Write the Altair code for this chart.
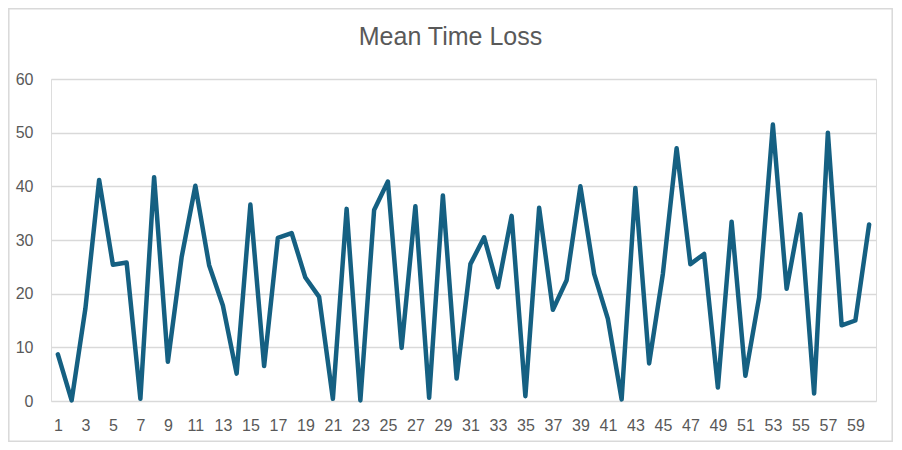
import altair as alt
import pandas as pd

categories = list(range(1, 61))
values = [8.7, 0.1, 17.2, 41.2, 25.4, 25.8, 0.4, 41.7, 7.3, 26.8,
          40.1, 25.3, 17.8, 5.1, 36.6, 6.5, 30.4, 31.3, 23.0, 19.4,
          0.4, 35.8, 0.1, 35.6, 40.9, 9.9, 36.3, 0.6, 38.3, 4.2,
          25.5, 30.5, 21.2, 34.5, 0.9, 36.0, 17.0, 22.5, 40.0, 23.7,
          15.3, 0.3, 39.7, 7.0, 23.7, 47.1, 25.5, 27.4, 2.5, 33.4,
          4.7, 19.3, 51.5, 20.9, 34.8, 1.4, 50.0, 14.1, 15.0, 32.9]
x_tick_labels = [c for c in categories if c % 2 == 1]
y_ticks = [0, 10, 20, 30, 40, 50, 60]
title_text = "Mean Time Loss"

df = pd.DataFrame({"idx": categories, "value": values})

W, H = 825, 322
FONT = "Liberation Sans"
TXT = "#595959"

line = alt.Chart(df).mark_line(
    color="#156082", strokeWidth=4.5, strokeJoin="round", strokeCap="round"
).encode(
    x=alt.X("idx:O", sort=categories,
            scale=alt.Scale(type="point", padding=0.5),
            axis=alt.Axis(title=None, values=x_tick_labels, labelAngle=0,
                          ticks=False, domain=False, grid=False,
                          labelPadding=16, labelFontSize=16, labelFont=FONT,
                          labelColor=TXT)),
    y=alt.Y("value:Q", scale=alt.Scale(domain=[0, 60], nice=False),
            axis=alt.Axis(title=None, values=y_ticks, ticks=False, domain=False,
                          grid=True, gridColor="#d9d9d9", gridWidth=1.5,
                          labelPadding=18, labelFontSize=16, labelFont=FONT,
                          labelColor=TXT)),
)

title = alt.Chart(pd.DataFrame({"t": [title_text]})).mark_text(
    font=FONT, fontSize=25, color=TXT, align="center", baseline="alphabetic"
).encode(text="t:N", x=alt.value(399.5), y=alt.value(-34.5))

border = alt.Chart(pd.DataFrame({"b": [1]})).mark_rect(
    fillOpacity=0, stroke="#d9d9d9", strokeWidth=1.5
).encode(x=alt.value(-42.2), x2=alt.value(841.2), y=alt.value(-70.2), y2=alt.value(362.2))

chart = alt.layer(border, line, title).properties(
    width=W, height=H,
    autosize=alt.AutoSizeParams(type="none"),
    padding={"left": 43, "top": 71, "right": 17, "bottom": 41},
).configure_view(stroke=None).configure(background="white")

chart.save("out.html", embed_options={"renderer": "svg", "actions": False})
